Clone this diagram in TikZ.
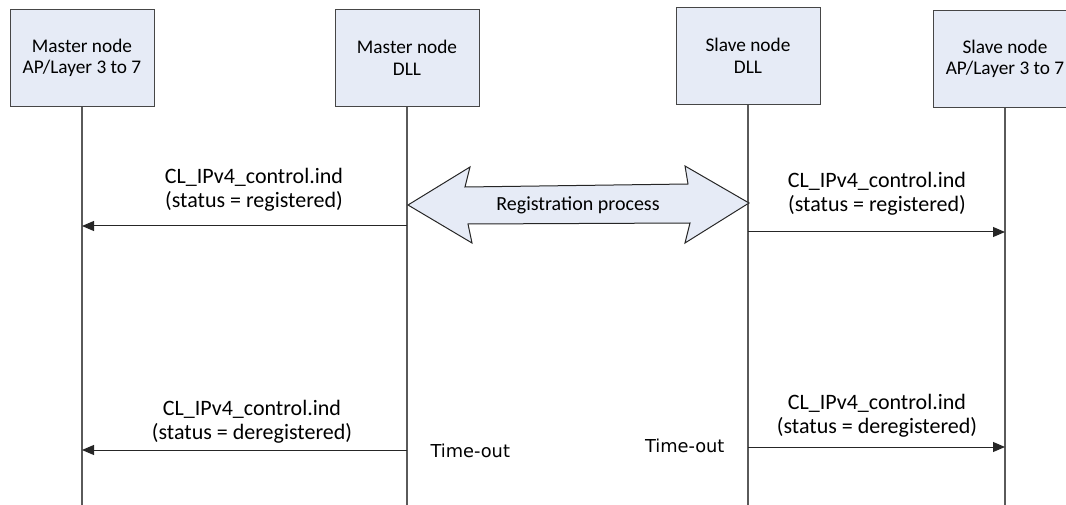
\documentclass[tikz,border=0pt]{standalone}
\usepackage{fontspec}
\setmainfont{Carlito}
\newfontfamily\dejavu{DejaVu Sans}
\usetikzlibrary{arrows.meta}
\definecolor{boxfill}{RGB}{230,235,246}
\definecolor{boxline}{RGB}{70,70,70}
\definecolor{lifeline}{RGB}{90,90,90}
\tikzset{
  entity/.style={draw=boxline, fill=boxfill, line width=1pt, minimum width=144pt,
    minimum height=97pt, align=center, font=\fontsize{19.3}{21.5}\selectfont, inner sep=0pt},
  lane/.style={draw=lifeline, line width=1.1pt},
  msg/.style={draw=black!85, line width=1pt, -{Triangle[length=12pt,width=10pt]}},
  msglabel/.style={align=center, font=\fontsize{22}{24.5}\selectfont},
  timeout/.style={font=\dejavu\fontsize{17.8}{20}\selectfont},
}
\begin{document}
\begin{tikzpicture}[x=1pt, y=-1pt]
\useasboundingbox (0,0) rectangle (1066,505);
\clip (0,0) rectangle (1066,505);

% participants
\node[entity] (mapl) at (82,58)   {Master node\\AP/Layer 3 to 7};
\node[entity] (mdll) at (407,58)  {Master node\\DLL};
\node[entity] (sdll) at (748,56)  {Slave node\\DLL};
\node[entity] (sapl) at (1005,59) {Slave node\\AP/Layer 3 to 7};

% lifeline ends
\coordinate (maplB) at (82,505);
\coordinate (mdllB) at (407,505);
\coordinate (sdllB) at (748,505);
\coordinate (saplB) at (1005,505);

\draw[lane] (mapl.south) -- (maplB);
\draw[lane] (mdll.south) -- (mdllB);
\draw[lane] (sdll.south) -- (sdllB);
\draw[lane] (sapl.south) -- (saplB);

% registration process double arrow
\draw[draw=black!85, fill=boxfill, line width=1pt, line join=miter]
  (408,205) -- (470,167) -- (465,187) -- (688,184) -- (685,166) -- (749,203)
  -- (685,243) -- (690,223) -- (468,224) -- (472,243) -- cycle;
\node[font=\fontsize{20}{22}\selectfont] (reg) at (578,205) {Registration process};

% registration indications
\coordinate (m1) at (407,226);
\coordinate (a1) at (82,226);
\draw[msg] (m1) -- (a1);
\node[msglabel] (l1) at (254,190) {CL\_IPv4\_control.ind\\(status = registered)};

\coordinate (m2) at (748,232);
\coordinate (a2) at (1005,232);
\draw[msg] (m2) -- (a2);
\node[msglabel] (l2) at (877,194) {CL\_IPv4\_control.ind\\(status = registered)};

% deregistration indications
\coordinate (m3) at (407,450);
\coordinate (a3) at (82,450);
\draw[msg] (m3) -- (a3);
\node[msglabel] (l3) at (252,422) {CL\_IPv4\_control.ind\\(status = deregistered)};

\coordinate (m4) at (748,447);
\coordinate (a4) at (1005,447);
\draw[msg] (m4) -- (a4);
\node[msglabel] (l4) at (877,416) {CL\_IPv4\_control.ind\\(status = deregistered)};

\node[timeout, anchor=west] (t1) at (427,451) {Time-out};
\node[timeout, anchor=east] (t2) at (728,446) {Time-out};
\end{tikzpicture}
\end{document}
